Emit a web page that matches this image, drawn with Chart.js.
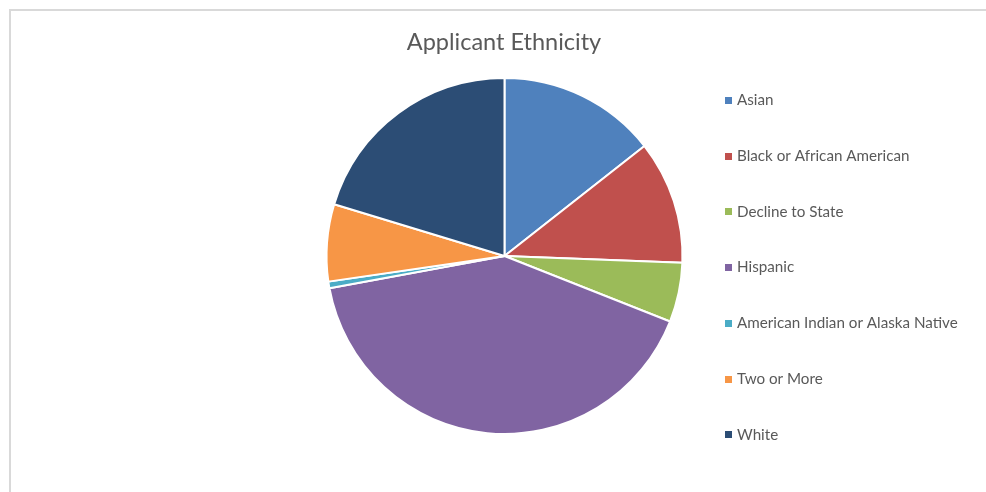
<!DOCTYPE html>
<html>
<head>
<meta charset="utf-8">
<title>Applicant Ethnicity</title>
<script src="https://cdn.jsdelivr.net/npm/chart.js@4/dist/chart.umd.min.js"></script>
<style>
  html, body { margin: 0; padding: 0; background: #ffffff; }
  #wrap { position: relative; width: 986px; height: 492px; }
  canvas { display: block; }
</style>
</head>
<body>
<div id="wrap"><canvas id="chart" width="986" height="492"></canvas></div>
<script>
// Applicant ethnicity shares (percent of applicants)
const categories = [
  'Asian',
  'Black or African American',
  'Decline to State',
  'Hispanic',
  'American Indian or Alaska Native',
  'Two or More',
  'White'
];
const shares = [14.4, 11.2, 5.4, 41.1, 0.6, 7.0, 20.3];
const sliceColors = ['#4F81BD', '#C0504D', '#9BBB59', '#8064A2', '#4BACC6', '#F79646', '#2C4D75'];
const chartTitle = 'Applicant Ethnicity';

const FONT = 'Lato, "Open Sans", "Liberation Sans", sans-serif';
const TEXT_COLOR = '#595959';

// Frame, title and a right-hand legend drawn straight onto the canvas
const decorations = {
  id: 'decorations',
  beforeDraw(chart) {
    const ctx = chart.ctx;
    ctx.save();
    ctx.strokeStyle = '#d9d9d9';
    ctx.lineWidth = 2;
    ctx.beginPath();
    ctx.moveTo(10, chart.height + 2);
    ctx.lineTo(10, 10);
    ctx.lineTo(chart.width + 2, 10);
    ctx.stroke();
    ctx.restore();
  },
  afterDraw(chart) {
    const ctx = chart.ctx;
    ctx.save();
    ctx.fillStyle = TEXT_COLOR;
    ctx.textAlign = 'center';
    ctx.textBaseline = 'middle';
    ctx.font = '23.5px ' + FONT;
    ctx.fillText(chartTitle, 504, 42);

    const labels = chart.data.labels;
    const colors = chart.data.datasets[0].backgroundColor;
    ctx.font = '15.2px ' + FONT;
    ctx.textAlign = 'left';
    const top = 100, step = 55.7;
    labels.forEach((label, i) => {
      const y = top + i * step;
      ctx.fillStyle = colors[i];
      ctx.fillRect(725, Math.round(y) - 3, 7, 7);
      ctx.fillStyle = TEXT_COLOR;
      ctx.fillText(label, 737, y + 0.5);
    });
    ctx.restore();
  }
};

new Chart(document.getElementById('chart'), {
  type: 'pie',
  data: {
    labels: categories,
    datasets: [{
      data: shares,
      backgroundColor: sliceColors,
      borderColor: '#ffffff',
      borderWidth: 2,
      radius: 178
    }]
  },
  options: {
    responsive: false,
    animation: false,
    layout: { padding: { left: 23, right: 0, top: 20, bottom: 0 } },
    plugins: {
      legend: { display: false },
      title: { display: false },
      tooltip: { enabled: false }
    }
  },
  plugins: [decorations]
});
</script>
</body>
</html>
